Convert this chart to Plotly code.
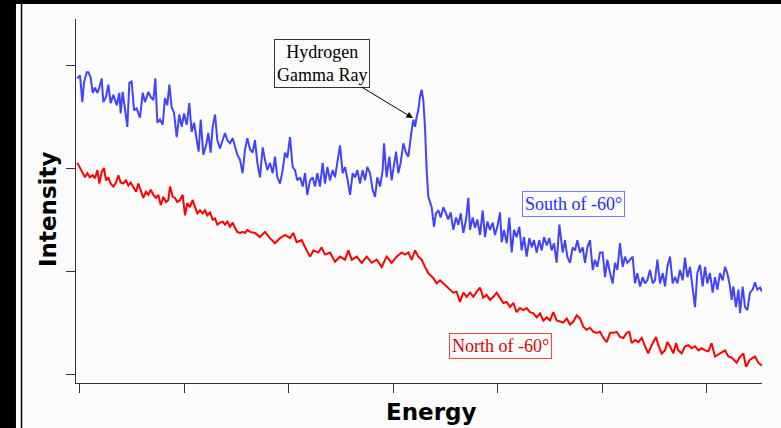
import plotly.graph_objects as go

# ---- data ----
south_energy = [-0.021, 0.005, 0.027, 0.043, 0.069, 0.085, 0.107, 0.126, 0.148, 0.171, 0.190, 0.212, 0.228, 0.254,
    0.276, 0.298, 0.324, 0.356, 0.381, 0.394, 0.413, 0.435, 0.458, 0.477, 0.499, 0.522, 0.547, 0.579, 0.605, 0.627,
    0.659, 0.681, 0.707, 0.726, 0.745, 0.770, 0.796, 0.818, 0.840, 0.860, 0.882, 0.904, 0.930, 0.955, 0.978, 1.000,
    1.026, 1.051, 1.073, 1.096, 1.121, 1.140, 1.160, 1.185, 1.211, 1.233, 1.255, 1.274, 1.297, 1.319, 1.344, 1.370,
    1.392, 1.415, 1.440, 1.466, 1.488, 1.510, 1.536, 1.561, 1.584, 1.606, 1.632,
    1.657, 1.679, 1.702, 1.727, 1.753, 1.775, 1.797, 1.823, 1.849, 1.871, 1.893, 1.919, 1.944, 1.967, 1.989, 2.014,
    2.040, 2.062, 2.084, 2.110, 2.136, 2.158, 2.180, 2.206, 2.231, 2.254, 2.276, 2.301, 2.327, 2.349, 2.372, 2.397,
    2.423, 2.445, 2.467, 2.493, 2.518, 2.541, 2.563, 2.589, 2.614, 2.636, 2.659, 2.684, 2.710, 2.732, 2.754, 2.780,
    2.805, 2.828, 2.850, 2.876, 2.901, 2.914, 2.939, 2.965, 2.987, 3.010, 3.029, 3.051, 3.073, 3.099, 3.124, 3.147,
    3.163, 3.179, 3.195, 3.211, 3.227, 3.242, 3.258, 3.274, 3.290, 3.306, 3.322, 3.338,
    3.370, 3.392, 3.411, 3.434, 3.456, 3.482, 3.507, 3.529, 3.552, 3.577, 3.603, 3.625, 3.648, 3.673, 3.699, 3.721,
    3.737, 3.762, 3.785, 3.807, 3.833, 3.858, 3.880, 3.903, 3.928, 3.954, 3.976, 3.998, 4.024, 4.040, 4.062, 4.088,
    4.113, 4.136, 4.158, 4.183, 4.209, 4.231, 4.254, 4.279, 4.305, 4.327, 4.349, 4.375, 4.400, 4.423, 4.445, 4.471,
    4.496, 4.518, 4.541, 4.566, 4.592,
    4.624, 4.646, 4.668, 4.694, 4.719, 4.742, 4.764, 4.789, 4.815, 4.837, 4.860, 4.885, 4.911, 4.933, 4.955, 4.981,
    5.006, 5.029, 5.051, 5.077, 5.102, 5.124, 5.147, 5.172, 5.198, 5.220, 5.242, 5.268, 5.293, 5.316, 5.338, 5.364,
    5.389, 5.411, 5.434, 5.459, 5.485, 5.507, 5.530, 5.555, 5.581, 5.603, 5.625, 5.651, 5.676, 5.699, 5.721, 5.746,
    5.772, 5.794, 5.817, 5.842, 5.868, 5.890, 5.912, 5.938, 5.963, 5.986, 6.008, 6.033, 6.059, 6.081, 6.104, 6.129,
    6.155, 6.177, 6.199, 6.225, 6.241, 6.257, 6.282, 6.305, 6.321, 6.346, 6.368, 6.391, 6.416, 6.442, 6.464, 6.486,
    6.512, 6.531]
south_intensity = [2.87, 2.90, 2.64, 2.83, 2.93, 2.93, 2.88, 2.73, 2.78, 2.73, 2.78, 2.87, 2.64, 2.69,
    2.81, 2.63, 2.71, 2.61, 2.73, 2.53, 2.74, 2.59, 2.40, 2.83, 2.84, 2.56, 2.58, 2.49, 2.73, 2.64,
    2.74, 2.69, 2.66, 2.87, 2.44, 2.47, 2.42, 2.68, 2.61, 2.81, 2.59, 2.54, 2.30, 2.52, 2.40, 2.53,
    2.42, 2.63, 2.35, 2.44, 2.30, 2.16, 2.47, 2.13, 2.22, 2.34, 2.15, 2.40, 2.52, 2.27, 2.19, 2.27,
    2.34, 2.27, 2.24, 2.29, 2.20, 2.13, 2.08, 1.95, 2.18, 2.29, 2.18,
    2.15, 2.27, 2.05, 1.91, 2.20, 2.08, 1.98, 2.05, 1.95, 2.11, 1.91, 1.85, 1.98, 2.15, 2.10, 2.30,
    2.01, 1.98, 1.88, 1.91, 1.82, 1.95, 1.74, 1.88, 1.91, 1.82, 1.95, 1.82, 2.05, 1.85, 2.01, 1.88,
    1.98, 1.91, 2.05, 2.22, 1.95, 2.01, 1.90, 1.74, 1.95, 1.91, 1.98, 1.85, 1.98, 1.88, 2.01, 1.95,
    1.79, 1.72, 1.91, 1.82, 1.98, 2.24, 1.91, 2.11, 1.88, 2.05, 2.16, 1.95, 2.05, 2.24, 2.15, 2.11,
    2.27, 2.37, 2.47, 2.40, 2.50, 2.56, 2.69, 2.76, 2.66, 2.40, 1.98, 1.72,
    1.62, 1.43, 1.56, 1.59, 1.52, 1.62, 1.56, 1.50, 1.57, 1.40, 1.52, 1.45, 1.56, 1.37, 1.50, 1.71,
    1.40, 1.52, 1.42, 1.50, 1.35, 1.59, 1.33, 1.48, 1.40, 1.47, 1.35, 1.43, 1.57, 1.28, 1.40, 1.27,
    1.52, 1.18, 1.40, 1.33, 1.43, 1.20, 1.33, 1.14, 1.32, 1.23, 1.30, 1.18, 1.30, 1.20, 1.33, 1.25,
    1.32, 1.20, 1.27, 1.08, 1.45,
    1.18, 1.30, 1.14, 1.08, 1.23, 1.20, 1.30, 1.18, 1.23, 1.08, 1.23, 1.30, 1.01, 1.11, 1.04, 1.18,
    1.18, 0.94, 1.11, 0.98, 0.88, 1.08, 1.01, 1.27, 1.04, 1.14, 1.08, 1.11, 1.14, 0.88, 0.98, 0.85,
    0.94, 0.88, 0.91, 1.01, 0.88, 0.91, 1.11, 0.88, 0.98, 0.85, 1.04, 1.14, 0.88, 0.94, 0.88, 1.01,
    0.91, 1.13, 0.94, 1.04, 0.82, 0.65, 0.98, 1.06, 0.85, 1.04, 0.88, 0.98, 0.79, 0.94, 0.82, 0.98,
    0.91, 1.04, 0.98, 0.85, 0.72, 0.85, 0.65, 0.82, 0.59, 0.85, 0.65, 0.62, 0.79, 0.82, 0.89, 0.82,
    0.84, 0.80]

north_energy = [-0.021, 0.005, 0.030, 0.053, 0.075, 0.100, 0.126, 0.148, 0.171, 0.190, 0.212, 0.234, 0.254, 0.276,
    0.298, 0.324, 0.349, 0.372, 0.394, 0.419, 0.445, 0.467, 0.490, 0.515, 0.541, 0.563, 0.585, 0.611, 0.636, 0.659,
    0.681, 0.707, 0.732, 0.754, 0.777, 0.802, 0.828, 0.850, 0.866, 0.892, 0.914, 0.936, 0.962, 0.987, 1.010, 1.032,
    1.057, 1.083, 1.105, 1.128, 1.153, 1.179, 1.201, 1.223, 1.249, 1.274, 1.297, 1.319, 1.344, 1.370, 1.392, 1.415,
    1.440, 1.466, 1.488, 1.510, 1.536, 1.561, 1.584, 1.606, 1.632,
    1.679, 1.727, 1.775, 1.823, 1.871, 1.919, 1.967, 2.014, 2.046, 2.078, 2.126, 2.174, 2.206, 2.238, 2.285, 2.317,
    2.349, 2.397, 2.445, 2.493, 2.541, 2.573, 2.605, 2.653, 2.700, 2.748, 2.796, 2.844, 2.892, 2.939, 2.987, 3.035,
    3.083, 3.115, 3.147, 3.179, 3.211, 3.242, 3.274, 3.306, 3.338, 3.386,
    3.418, 3.450, 3.482, 3.514, 3.545, 3.577, 3.609, 3.641, 3.673, 3.705, 3.737, 3.769, 3.801, 3.833, 3.864, 3.896,
    3.928, 3.960, 3.992, 4.024, 4.056, 4.088, 4.120, 4.152, 4.183, 4.215, 4.247, 4.279, 4.311, 4.343, 4.375, 4.407,
    4.439, 4.471, 4.502, 4.534, 4.566, 4.598, 4.630, 4.662,
    4.694, 4.726, 4.758, 4.789, 4.821, 4.853, 4.885, 4.917, 4.949, 4.981, 5.013, 5.045, 5.077, 5.108, 5.140, 5.172,
    5.204, 5.236, 5.262, 5.284, 5.316, 5.348, 5.380, 5.411, 5.443, 5.475, 5.517, 5.539, 5.571, 5.603, 5.625, 5.651,
    5.683, 5.708, 5.730, 5.762, 5.794, 5.826, 5.858, 5.890, 5.922, 5.954, 5.986, 6.018,
    6.049, 6.081, 6.129, 6.177, 6.209, 6.241, 6.289, 6.321, 6.353, 6.378, 6.416, 6.464, 6.496, 6.531]
north_intensity = [2.05, 2.00, 1.95, 1.91, 1.95, 1.91, 1.93, 1.90, 1.98, 1.85, 1.96, 2.00, 1.88, 1.91,
    1.85, 1.82, 1.86, 1.93, 1.86, 1.85, 1.88, 1.83, 1.86, 1.81, 1.77, 1.85, 1.79, 1.71, 1.77, 1.74,
    1.79, 1.74, 1.71, 1.74, 1.64, 1.72, 1.67, 1.69, 1.82, 1.72, 1.71, 1.67, 1.69, 1.74, 1.54, 1.66,
    1.62, 1.69, 1.62, 1.56, 1.59, 1.56, 1.59, 1.54, 1.57, 1.50, 1.51, 1.45, 1.47, 1.48, 1.45, 1.48,
    1.43, 1.47, 1.42, 1.38, 1.37, 1.38, 1.37, 1.40, 1.38,
    1.37, 1.33, 1.38, 1.32, 1.27, 1.32, 1.35, 1.32, 1.37, 1.28, 1.30, 1.20, 1.14, 1.20, 1.18, 1.23,
    1.16, 1.18, 1.09, 1.14, 1.11, 1.20, 1.11, 1.14, 1.08, 1.14, 1.08, 1.11, 1.04, 1.14, 1.08, 1.14,
    1.18, 1.16, 1.18, 1.11, 1.20, 1.14, 1.11, 1.04, 0.98, 0.93,
    0.88, 0.91, 0.88, 0.85, 0.82, 0.79, 0.80, 0.70, 0.79, 0.75, 0.79, 0.75, 0.80, 0.84, 0.74, 0.77,
    0.72, 0.75, 0.79, 0.74, 0.69, 0.70, 0.65, 0.69, 0.60, 0.64, 0.62, 0.64, 0.60, 0.59, 0.55, 0.59,
    0.52, 0.55, 0.52, 0.60, 0.52, 0.51, 0.50, 0.54,
    0.48, 0.51, 0.57, 0.54, 0.46, 0.43, 0.45, 0.41, 0.40, 0.41, 0.35, 0.31, 0.40, 0.40, 0.41, 0.36,
    0.35, 0.40, 0.41, 0.30, 0.33, 0.31, 0.35, 0.27, 0.20, 0.28, 0.36, 0.28, 0.20, 0.23, 0.31, 0.27,
    0.20, 0.30, 0.23, 0.20, 0.27, 0.28, 0.25, 0.27, 0.23, 0.25, 0.23, 0.22,
    0.30, 0.17, 0.20, 0.23, 0.17, 0.16, 0.11, 0.17, 0.20, 0.07, 0.14, 0.17, 0.11, 0.08]

energy_ticks = [0, 1, 2, 3, 4, 5, 6]
intensity_ticks = [0, 1, 2, 3]

BLUE = "#4343ff"
RED = "#ff0000"
AXIS = "#333333"
TITLE_FONT = dict(family="DejaVu Sans", size=23, color="#000000", weight="bold")
SERIF = "Liberation Serif"

fig = go.Figure()
fig.add_trace(go.Scatter(x=south_energy, y=south_intensity, mode="lines",
                         line=dict(color=BLUE, width=2), name="South of -60°", showlegend=False))
fig.add_trace(go.Scatter(x=north_energy, y=north_intensity, mode="lines",
                         line=dict(color=RED, width=2), name="North of -60°", showlegend=False))

fig.update_layout(
    width=781, height=428,
    margin=dict(l=76, r=19, t=19, b=45),
    paper_bgcolor="#fcfcfc", plot_bgcolor="#fcfcfc",
    xaxis=dict(range=[-0.0335, 6.531], tickvals=energy_ticks, showticklabels=False,
               ticks="outside", ticklen=9, tickcolor=AXIS, tickwidth=1,
               showline=True, linecolor=AXIS, linewidth=1, showgrid=False, zeroline=False),
    yaxis=dict(range=[-0.087, 3.447], tickvals=intensity_ticks, showticklabels=False,
               ticks="outside", ticklen=9, tickcolor=AXIS, tickwidth=1,
               showline=True, linecolor=AXIS, linewidth=1, showgrid=False, zeroline=False),
)

# axis titles (placed as in the original picture)
fig.add_annotation(xref="paper", yref="paper", x=0.5175, y=-0.0797, text="Energy", showarrow=False,
                   xanchor="center", yanchor="middle", font=TITLE_FONT)
fig.add_annotation(xref="paper", yref="paper", x=-0.0408, y=0.4753, text="Intensity", showarrow=False,
                   xanchor="center", yanchor="middle", textangle=-90, font=TITLE_FONT)

# frame pieces of the original picture (black bands)
fig.add_shape(type="rect", xref="paper", yref="paper", x0=-0.3, x1=1.1, y0=1.0412, y1=1.2,
              fillcolor="#000000", line=dict(width=0), layer="above")
fig.add_shape(type="rect", xref="paper", yref="paper", x0=-0.3, x1=-0.0875, y0=-0.3, y1=1.2,
              fillcolor="#000000", line=dict(width=0), layer="above")
fig.add_shape(type="line", xref="paper", yref="paper", x0=-0.0794, x1=-0.0794, y0=-0.3, y1=1.2,
              line=dict(color="#000000", width=1.5), layer="above")

fig.add_annotation(x=3.191, y=2.485, xref="x", yref="y", text="Hydrogen<br>Gamma Ray",
                   showarrow=True, ax=-91, ay=-55, arrowhead=2, arrowsize=1.3, arrowwidth=1,
                   arrowcolor="#000000", standoff=0,
                   font=dict(family=SERIF, size=18, color="#000000"),
                   bgcolor="#fcfcfc", bordercolor="#333333", borderwidth=1, borderpad=2)
fig.add_annotation(x=4.727, y=1.655, xref="x", yref="y", text="South of -60°", showarrow=False,
                   font=dict(family=SERIF, size=18, color="#2b2bff"),
                   bgcolor="#fcfcfc", bordercolor="#6a78ff", borderwidth=1, borderpad=2)
fig.add_annotation(x=4.033, y=0.277, xref="x", yref="y", text="North of -60°", showarrow=False,
                   font=dict(family=SERIF, size=18, color="#e00000"),
                   bgcolor="#fcfcfc", bordercolor="#ff4040", borderwidth=1, borderpad=2)

fig.write_html("out.html")
